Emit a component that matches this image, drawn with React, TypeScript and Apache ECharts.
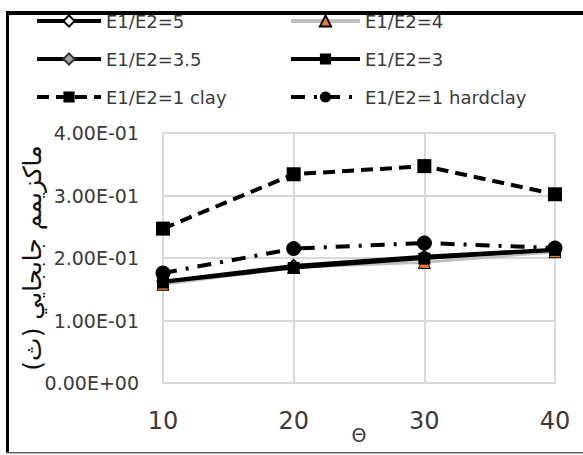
import React, { useEffect, useRef } from "react";
import * as echarts from "echarts";

const categories = ["10", "20", "30", "40"];
const seriesNames = ["E1/E2=5", "E1/E2=4", "E1/E2=3.5", "E1/E2=3", "E1/E2=1 clay", "E1/E2=1 hardclay"];
const r5 = [0.163, 0.188, 0.203, 0.214];
const r4 = [0.158, 0.185, 0.193, 0.21];
const r35 = [0.162, 0.186, 0.201, 0.212];
const r3 = [0.161, 0.184, 0.199, 0.213];
const clay = [0.247, 0.334, 0.347, 0.302];
const hardclay = [0.176, 0.215, 0.224, 0.216];
const yTicks = [0, 0.1, 0.2, 0.3, 0.4];
const yName = "ماكزيمم جابجايي (ث)";
const xName = "Θ";

const FONT = "DejaVu Sans";
const TXT = "#3a3a3a";

function fmtExp(v: number): string {
  if (v === 0) return "0.00E+00";
  const e = Math.floor(Math.log10(Math.abs(v)) + 1e-9);
  const m = v / Math.pow(10, e);
  const sign = e < 0 ? "-" : "+";
  const ae = Math.abs(e);
  return m.toFixed(2) + "E" + sign + (ae < 10 ? "0" + ae : String(ae));
}

export default function App() {
  const ref = useRef<HTMLDivElement>(null);
  useEffect(() => {
    const chart = echarts.init(ref.current!, null, { renderer: "svg" });
    const lineW = 3;
    const legendCommon = {
      top: 10,
      orient: "vertical",
      padding: 0,
      itemHeight: 14,
      itemGap: 16,
      lineStyle: { width: 4 },
      textStyle: { fontFamily: FONT, fontSize: 18, color: TXT, lineHeight: 22 },
    };
    chart.setOption({
      animation: false,
      backgroundColor: "#ffffff",
      textStyle: { fontFamily: FONT, color: TXT },
      legend: [
        {
          ...legendCommon,
          left: 35,
          itemWidth: 64,
          data: [seriesNames[0], seriesNames[2], seriesNames[4]],
        },
        {
          ...legendCommon,
          left: 289,
          itemWidth: 69,
          data: [seriesNames[1], seriesNames[3], seriesNames[5]],
        },
      ],
      grid: { left: 163, right: 28, top: 133, bottom: 72, containLabel: false, outerBoundsMode: "none" },
      xAxis: {
        type: "category",
        data: categories,
        boundaryGap: false,
        name: xName,
        nameLocation: "middle",
        nameGap: 42,
        nameMoveOverlap: false,
        nameTextStyle: { fontFamily: FONT, fontSize: 19, color: TXT },
        axisTick: { show: false },
        axisLine: { lineStyle: { color: "#d9d9d9", width: 2 } },
        splitLine: { show: true, lineStyle: { color: "#d9d9d9", width: 2 } },
        axisLabel: { fontFamily: FONT, fontSize: 24, color: TXT, margin: 26 },
      },
      yAxis: {
        type: "value",
        min: yTicks[0],
        max: yTicks[yTicks.length - 1],
        interval: 0.1,
        name: yName,
        nameLocation: "middle",
        nameRotate: 90,
        nameGap: 118,
        nameMoveOverlap: false,
        nameTextStyle: { fontFamily: FONT, fontSize: 25, color: "#111" },
        axisLine: { show: false },
        axisTick: { show: false },
        splitLine: { lineStyle: { color: "#d9d9d9", width: 2 } },
        axisLabel: { fontFamily: FONT, fontSize: 19, color: TXT, margin: 24, formatter: (v: number) => fmtExp(v) },
      },
      series: [
        {
          name: seriesNames[4],
          type: "line",
          data: clay,
          symbol: "rect",
          symbolSize: 14,
          itemStyle: { color: "#000" },
          lineStyle: { color: "#000", width: 4, type: [12, 7] },
          z: 2,
        },
        {
          name: seriesNames[5],
          type: "line",
          data: hardclay,
          symbol: "circle",
          symbolSize: 15,
          itemStyle: { color: "#000" },
          lineStyle: { color: "#000", width: 4, type: [14, 9, 3, 9] },
          z: 3,
        },
        {
          name: seriesNames[1],
          type: "line",
          data: r4,
          symbol: "triangle",
          symbolSize: 12,
          itemStyle: { color: "#ed7d31", borderColor: "#000", borderWidth: 1 },
          lineStyle: { color: "#bfbfbf", width: lineW },
          z: 4,
        },
        {
          name: seriesNames[0],
          type: "line",
          data: r5,
          symbol: "diamond",
          symbolSize: 11,
          itemStyle: { color: "#fff", borderColor: "#000", borderWidth: 2 },
          lineStyle: { color: "#000", width: lineW },
          z: 5,
        },
        {
          name: seriesNames[2],
          type: "line",
          data: r35,
          symbol: "diamond",
          symbolSize: 11,
          itemStyle: { color: "#a5a5a5", borderColor: "#333", borderWidth: 1 },
          lineStyle: { color: "#000", width: lineW },
          z: 6,
        },
        {
          name: seriesNames[3],
          type: "line",
          data: r3,
          symbol: "rect",
          symbolSize: 12,
          itemStyle: { color: "#000" },
          lineStyle: { color: "#000", width: lineW },
          z: 7,
        },
      ],
      graphic: [
        { type: "rect", shape: { x: 6, y: 11, width: 577, height: 4 }, style: { fill: "#000" }, silent: true },
        { type: "rect", shape: { x: 6, y: 11, width: 3, height: 442 }, style: { fill: "#000" }, silent: true },
        { type: "rect", shape: { x: 6, y: 452, width: 577, height: 1.5 }, style: { fill: "#666" }, silent: true },
      ],
    });
    return () => chart.dispose();
  }, []);
  return (
    <div
      ref={ref}
      style={{ position: "absolute", left: 0, top: 0, width: 583, height: 455 }}
    />
  );
}
